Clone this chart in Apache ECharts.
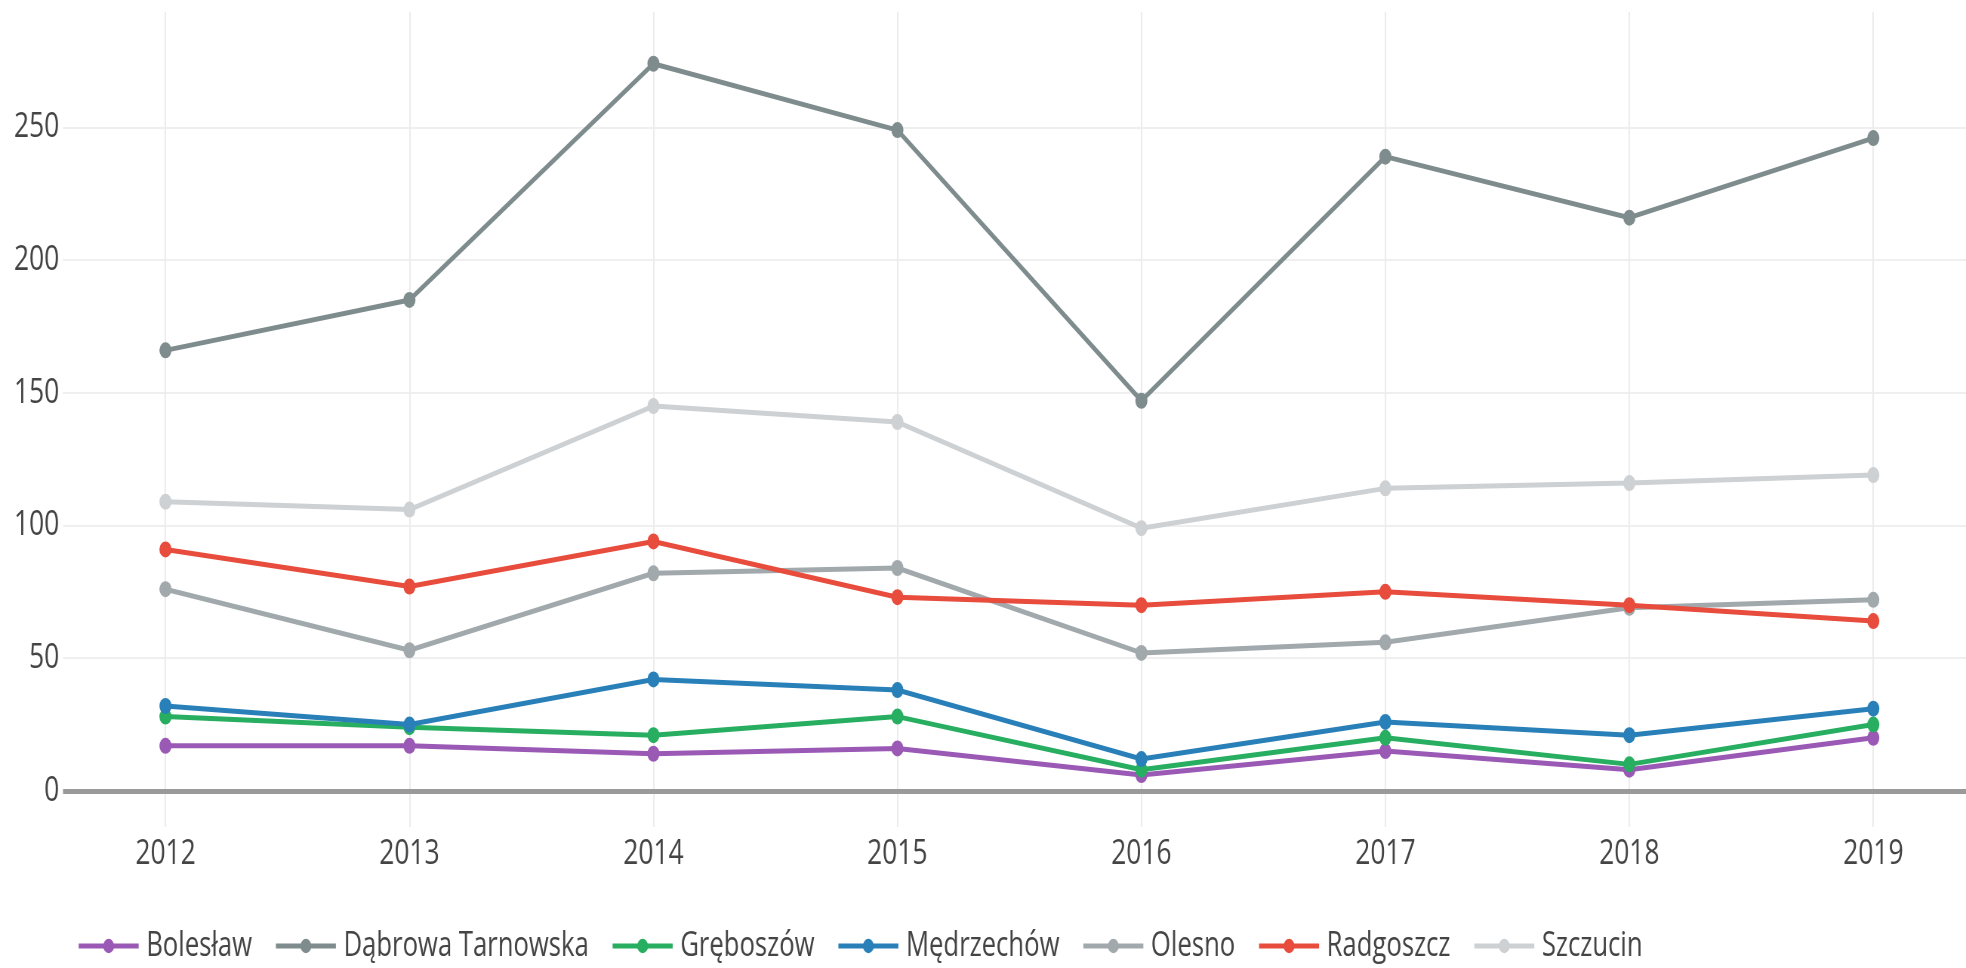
<!DOCTYPE html>
<html>
<head>
<meta charset="utf-8">
<script src="https://cdn.jsdelivr.net/npm/echarts@6/dist/echarts.min.js"></script>
<style>
html,body{margin:0;padding:0;background:#fff;overflow:hidden;}
#wrap{width:1966px;height:968px;overflow:hidden;position:relative;}
#chart{height:968px;transform-origin:0 0;position:absolute;left:0;top:0;}
</style>
</head>
<body>
<div id="wrap"><div id="chart"></div></div>
<script>
const years = [2012, 2013, 2014, 2015, 2016, 2017, 2018, 2019];
const seriesNames = ['Bolesław', 'Dąbrowa Tarnowska', 'Gręboszów', 'Mędrzechów', 'Olesno', 'Radgoszcz', 'Szczucin'];
const boleslaw = [17, 17, 14, 16, 6, 15, 8, 20];
const dabrowaTarnowska = [166, 185, 274, 249, 147, 239, 216, 246];
const greboszow = [28, 24, 21, 28, 8, 20, 10, 25];
const medrzechow = [32, 25, 42, 38, 12, 26, 21, 31];
const olesno = [76, 53, 82, 84, 52, 56, 69, 72];
const radgoszcz = [91, 77, 94, 73, 70, 75, 70, 64];
const szczucin = [109, 106, 145, 139, 99, 114, 116, 119];
const colors = ['#9b59b6', '#7f8c8d', '#27ae60', '#2980b9', '#a2a9ad', '#e74c3c', '#cdd1d4'];

const allValues = [boleslaw, dabrowaTarnowska, greboszow, medrzechow, olesno, radgoszcz, szczucin];
const FONT = '"Open Sans", "Noto Sans", sans-serif';

// the reference picture is horizontally condensed; render wider and squeeze
const S = 0.755;
const el = document.getElementById('chart');
el.style.width = (1966 / S) + 'px';
el.style.transform = 'scaleX(' + S + ')';

const chart = echarts.init(el, null, {renderer: 'canvas'});
const series = seriesNames.map((name, i) => ({
  name: name,
  type: 'line',
  data: years.map((y, j) => [y, allValues[i][j]]),
  symbol: 'circle',
  symbolSize: 16,
  showSymbol: true,
  lineStyle: {width: 5, color: colors[i]},
  itemStyle: {color: colors[i]},
  emphasis: {disabled: true},
  z: 3 + i,
  markLine: i === 0 ? {
    silent: true,
    symbol: 'none',
    label: {show: false},
    lineStyle: {color: '#9a9a9a', width: 5, type: 'solid'},
    data: [{yAxis: 0}],
    z: 2
  } : undefined
}));

chart.setOption({
  animation: false,
  backgroundColor: '#ffffff',
  color: colors,
  grid: {left: 63 / S, right: 0, top: 12, height: 815, containLabel: false},
  xAxis: {
    type: 'value',
    min: 2011.58,
    max: 2019.38,
    splitNumber: 8,
    axisLine: {show: false},
    axisTick: {show: false},
    axisLabel: {
      showMinLabel: false, showMaxLabel: false,
      formatter: v => String(Math.round(v)),
      fontFamily: FONT, fontSize: 35, color: '#444', margin: 10
    },
    splitLine: {show: true, showMinLine: false, showMaxLine: false, lineStyle: {color: '#ececec', width: 2}}
  },
  yAxis: {
    type: 'value',
    min: -13.6,
    max: 293.5,
    splitNumber: 6,
    axisLine: {show: false},
    axisTick: {show: false},
    axisLabel: {
      showMinLabel: false, showMaxLabel: false,
      fontFamily: FONT, fontSize: 35, color: '#444', margin: 5
    },
    splitLine: {show: true, showMinLine: false, showMaxLine: false, lineStyle: {color: '#efefef', width: 2}}
  },
  legend: {
    data: seriesNames,
    left: 73 / S,
    top: 924,
    itemWidth: 60 / S,
    itemHeight: 18,
    itemGap: 22 / S,
    lineStyle: {width: 5},
    textStyle: {fontFamily: FONT, fontSize: 34, color: '#444', padding: [0, 0, 0, 5]}
  },
  series: series
});
</script>
</body>
</html>
